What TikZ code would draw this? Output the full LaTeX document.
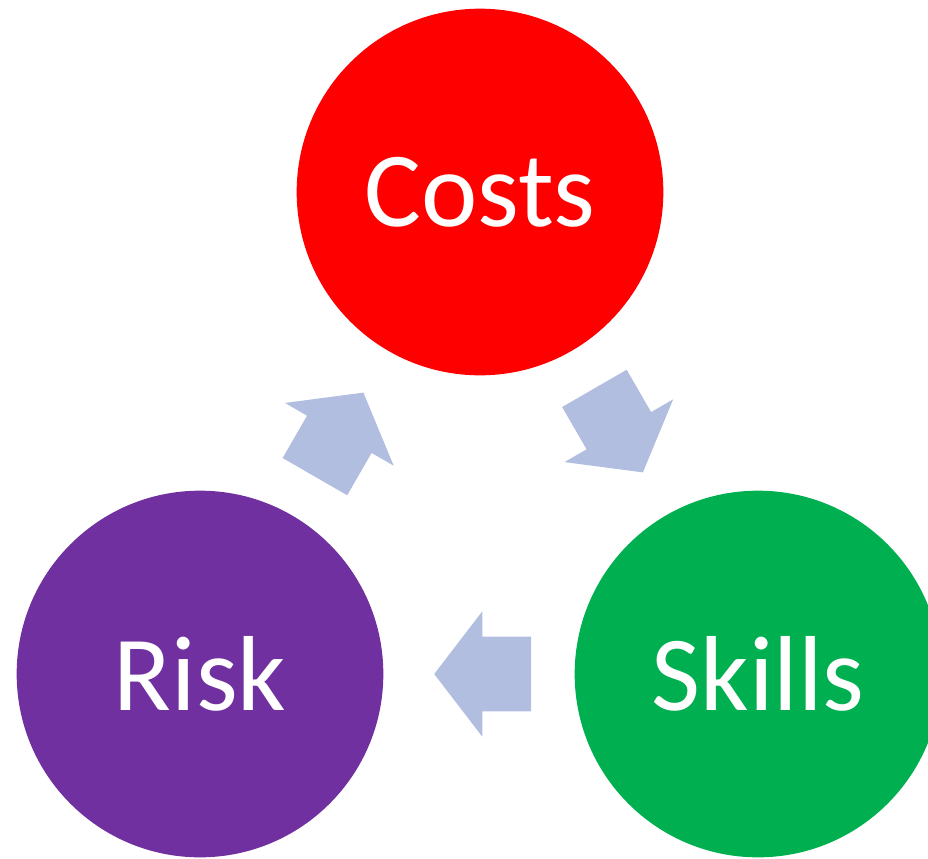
\documentclass[tikz,border=0pt]{standalone}
\usepackage{fontspec}
\setmainfont{Carlito}
\usetikzlibrary{shapes.arrows}
\definecolor{costred}{RGB}{255,0,0}
\definecolor{riskpurple}{RGB}{112,48,160}
\definecolor{skillgreen}{RGB}{0,176,80}
\definecolor{flowblue}{RGB}{177,190,223}

\begin{document}
\begin{tikzpicture}[x=0.75pt,y=-0.75pt,
	topic/.style={circle,minimum size=275pt,inner sep=0pt,text=white,font=\fontsize{80}{90}\selectfont},
	flow/.style={single arrow,fill=flowblue,draw=none,inner xsep=0pt,inner ysep=27.75pt,
		minimum width=0pt,minimum height=72.75pt,single arrow head extend=19.1pt,single arrow tip angle=105}]
			\clip (0,0) rectangle (928,858);
			\useasboundingbox (0,0) rectangle (928,858);
			% circles
			\node[topic,fill=costred] (costs) at (480,192) {Costs};
			\node[topic,fill=riskpurple] (risk) at (200,674) {Risk};
			\node[topic,fill=skillgreen] (skills) at (758,674) {Skills};
			% block arrows
			\node[flow,rotate=-60] (toskills) at (611.5,418) {};
			\node[flow,rotate=180] (torisk) at (497,674) {};
			\node[flow,rotate=60] (tocosts) at (332,447) {};
		\end{tikzpicture}
\end{document}
